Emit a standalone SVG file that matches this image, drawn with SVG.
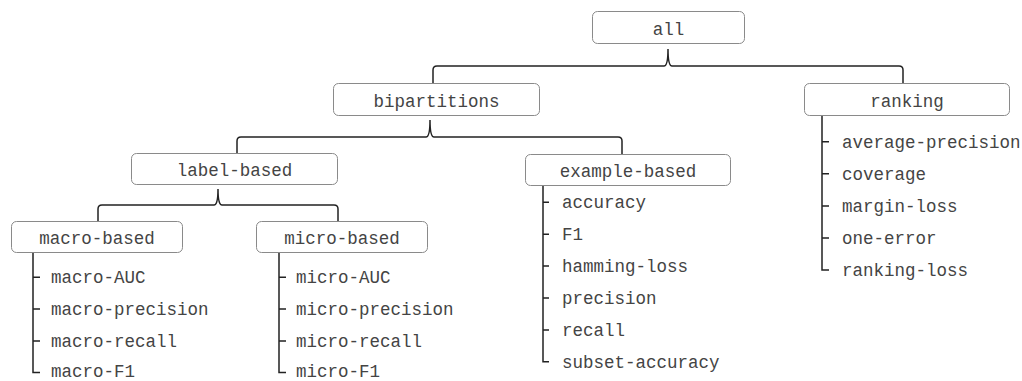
<svg xmlns="http://www.w3.org/2000/svg" width="1022" height="381" viewBox="0 0 1022 381">
<style>
.box{fill:#fff;stroke:#8a8a8a;stroke-width:1}
.lbl{font-family:"Liberation Mono","Courier New",monospace;font-size:17.5px;fill:#444}
.c{text-anchor:middle}
.ln{fill:none;stroke:#222;stroke-width:1.5}
</style>
<rect width="1022" height="381" fill="#fff"/>
<g id="connectors">
<path class="ln" d="M433,83 L433,70 Q433,66 437,66 L664,66 Q668,66 668,49 Q668,66 672,66 L899,66 Q903,66 903,70 L903,83"/>
<path class="ln" d="M237,153 L237,141 Q237,137 241,137 L426,137 Q430,137 430,120 Q430,137 434,137 L618,137 Q622,137 622,141 L622,154"/>
<path class="ln" d="M98,221 L98,209 Q98,205 102,205 L214,205 Q218,205 218,189 Q218,205 222,205 L334,205 Q338,205 338,209 L338,221"/>
<path class="ln" d="M33,253 L33,372.5 L40,372.5 M33,277.3 L40,277.3 M33,309.1 L40,309.1 M33,340.9 L40,340.9"/>
<path class="ln" d="M279,253 L279,372.5 L286,372.5 M279,277.3 L286,277.3 M279,309.1 L286,309.1 M279,340.9 L286,340.9"/>
<path class="ln" d="M543,186 L543,361.7 L549,361.7 M543,202.3 L549,202.3 M543,234.2 L549,234.2 M543,266.1 L549,266.1 M543,298 L549,298 M543,329.9 L549,329.9"/>
<path class="ln" d="M822,116 L822,270 L829,270 M822,141.7 L829,141.7 M822,173.8 L829,173.8 M822,205.9 L829,205.9 M822,238 L829,238"/>
</g>
<g id="all"><rect class="box" x="592.5" y="11.5" width="152" height="32" rx="5"/><text class="lbl c" x="668.5" y="34.5">all</text></g>
<g id="bipartitions"><rect class="box" x="333.5" y="83.5" width="206" height="32" rx="5"/><text class="lbl c" x="436.5" y="106.5">bipartitions</text></g>
<g id="ranking"><rect class="box" x="804.5" y="83.5" width="205" height="32" rx="5"/><text class="lbl c" x="907" y="106.5">ranking</text>
<text class="lbl" x="842" y="147.5">average-precision</text>
<text class="lbl" x="842" y="179.6">coverage</text>
<text class="lbl" x="842" y="211.7">margin-loss</text>
<text class="lbl" x="842" y="243.8">one-error</text>
<text class="lbl" x="842" y="275.9">ranking-loss</text></g>
<g id="label-based"><rect class="box" x="131.5" y="153.5" width="206" height="31" rx="5"/><text class="lbl c" x="234.5" y="175.5">label-based</text></g>
<g id="example-based"><rect class="box" x="525.5" y="154.5" width="205" height="31" rx="5"/><text class="lbl c" x="628" y="176.5">example-based</text>
<text class="lbl" x="562" y="208">accuracy</text>
<text class="lbl" x="562" y="239.9">F1</text>
<text class="lbl" x="562" y="271.8">hamming-loss</text>
<text class="lbl" x="562" y="303.7">precision</text>
<text class="lbl" x="562" y="335.6">recall</text>
<text class="lbl" x="562" y="367.5">subset-accuracy</text></g>
<g id="macro-based"><rect class="box" x="11.5" y="221.5" width="171" height="31" rx="5"/><text class="lbl c" x="97" y="243.5">macro-based</text>
<text class="lbl" x="51" y="283">macro-AUC</text>
<text class="lbl" x="51" y="314.8">macro-precision</text>
<text class="lbl" x="51" y="346.6">macro-recall</text>
<text class="lbl" x="51" y="376.5">macro-F1</text></g>
<g id="micro-based"><rect class="box" x="256.5" y="221.5" width="171" height="31" rx="5"/><text class="lbl c" x="342" y="243.5">micro-based</text>
<text class="lbl" x="296" y="283">micro-AUC</text>
<text class="lbl" x="296" y="314.8">micro-precision</text>
<text class="lbl" x="296" y="346.6">micro-recall</text>
<text class="lbl" x="296" y="376.5">micro-F1</text></g>
</svg>
